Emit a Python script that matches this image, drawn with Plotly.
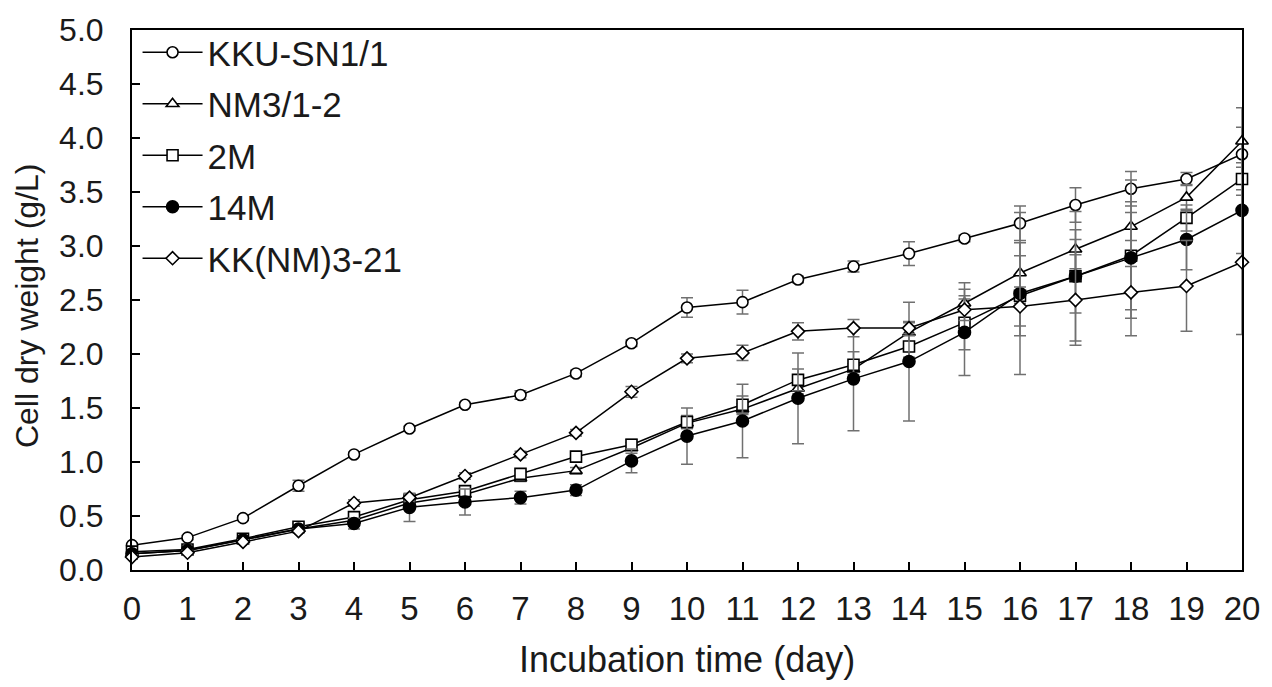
import plotly.graph_objects as go

days = list(range(21))
x_tick_labels = [str(d) for d in days]
y_tick_vals = [0.0, 0.5, 1.0, 1.5, 2.0, 2.5, 3.0, 3.5, 4.0, 4.5, 5.0]

names = ["KKU-SN1/1", "NM3/1-2", "2M", "14M", "KK(NM)3-21"]

kku_sn1 = [0.23, 0.30, 0.48, 0.78, 1.07, 1.31, 1.53, 1.62, 1.82, 2.10, 2.43,
           2.48, 2.69, 2.81, 2.93, 3.07, 3.21, 3.38, 3.53, 3.62, 3.85]
kku_sn1_err = [0.02, 0.02, 0.02, 0.05, 0.02, 0.02, 0.02, 0.04, 0.03, 0.03, 0.09,
               0.11, 0.03, 0.05, 0.11, 0.03, 0.16, 0.16, 0.16, 0.06, 0.25]

nm3 = [0.15, 0.18, 0.28, 0.38, 0.46, 0.62, 0.70, 0.85, 0.92, 1.13, 1.36,
       1.49, 1.68, 1.86, 2.20, 2.47, 2.75, 2.97, 3.18, 3.45, 3.97]
nm3_err = [0.02, 0.02, 0.02, 0.03, 0.03, 0.03, 0.03, 0.03, 0.03, 0.05, 0.05,
           0.05, 0.05, 0.05, 0.10, 0.19, 0.28, 0.18, 0.13, 0.12, 0.31]

m2 = [0.17, 0.19, 0.29, 0.40, 0.49, 0.65, 0.73, 0.89, 1.05, 1.16, 1.37,
      1.53, 1.76, 1.90, 2.07, 2.29, 2.54, 2.72, 2.91, 3.26, 3.62]
m2_err = [0.02, 0.02, 0.02, 0.03, 0.03, 0.03, 0.03, 0.03, 0.04, 0.05, 0.06,
          0.08, 0.10, 0.12, 0.10, 0.25, 0.37, 0.34, 0.50, 0.12, 0.15]

m14 = [0.15, 0.18, 0.28, 0.38, 0.43, 0.58, 0.63, 0.67, 0.74, 1.01, 1.24,
       1.38, 1.59, 1.77, 1.93, 2.20, 2.56, 2.72, 2.89, 3.06, 3.33]
m14_err = [0.02, 0.02, 0.02, 0.03, 0.05, 0.13, 0.12, 0.06, 0.05, 0.11, 0.26,
           0.34, 0.42, 0.48, 0.55, 0.40, 0.75, 0.60, 0.72, 0.28, 0.40]

kk_nm3 = [0.12, 0.16, 0.26, 0.36, 0.62, 0.67, 0.87, 1.07, 1.27, 1.65, 1.96,
          2.01, 2.21, 2.24, 2.24, 2.41, 2.44, 2.50, 2.57, 2.63, 2.85]
kk_nm3_err = [0.02, 0.02, 0.02, 0.02, 0.03, 0.03, 0.03, 0.03, 0.03, 0.05, 0.04,
              0.07, 0.08, 0.08, 0.05, 0.10, 0.18, 0.42, 0.24, 0.42, 0.67]

values = [kku_sn1, nm3, m2, m14, kk_nm3]
errors = [kku_sn1_err, nm3_err, m2_err, m14_err, kk_nm3_err]
symbols = ["circle", "triangle-up", "square", "circle", "diamond"]
fills = ["white", "white", "white", "black", "white"]
sizes = [11, 11, 11, 12, 10]

fig = go.Figure()
for i, name in enumerate(names):
    fig.add_trace(go.Scatter(
        x=days, y=values[i], name=name, mode="lines+markers",
        legendgroup=name,
        line=dict(color="black", width=1.5),
        marker=dict(symbol=symbols[i], size=sizes[i], color=fills[i],
                    line=dict(color="black", width=1.6)),
        error_y=dict(type="data", array=errors[i], visible=True,
                     color="#707070", thickness=1.5, width=6),
        cliponaxis=False,
    ))

fig.update_layout(
    width=1272, height=687,
    margin=dict(l=132, r=29, t=24, b=117),
    paper_bgcolor="white", plot_bgcolor="white",
    font=dict(family="Liberation Sans, Arial, sans-serif", color="#1a1a1a", size=32),
    showlegend=True,
    legend=dict(x=0.005, y=1.013, xanchor="left", yanchor="top",
                bgcolor="rgba(0,0,0,0)", font=dict(size=35),
                tracegroupgap=3, itemwidth=60),
    xaxis=dict(range=[0, 20], tickmode="array", tickvals=days, ticktext=x_tick_labels,
               ticks="inside", ticklen=8, tickwidth=1.5, tickcolor="black",
               showline=True, linecolor="black", linewidth=2, mirror=True,
               showgrid=False, zeroline=False,
               tickfont=dict(family="Liberation Sans Narrow, Arial Narrow, Liberation Sans", size=33),
               ticklabelstandoff=8),
    yaxis=dict(range=[0, 5], tickmode="array", tickvals=y_tick_vals,
               ticktext=["%.1f" % v for v in y_tick_vals],
               ticks="inside", ticklen=8, tickwidth=1.5, tickcolor="black",
               showline=True, linecolor="black", linewidth=2, mirror=True,
               showgrid=False, zeroline=False,
               tickfont=dict(size=32), ticklabelstandoff=20),
    annotations=[
        dict(text="Incubation time (day)", xref="paper", yref="paper",
             x=0.5, y=-0.165, xanchor="center", yanchor="middle", showarrow=False,
             font=dict(family="Liberation Sans Narrow, Arial Narrow, Liberation Sans", size=36)),
        dict(text="Cell dry weight (g/L)", xref="paper", yref="paper",
             x=-0.094, y=0.49, xanchor="center", yanchor="middle", showarrow=False,
             textangle=-90, font=dict(size=32)),
    ],
)

fig.write_html("out.html")
